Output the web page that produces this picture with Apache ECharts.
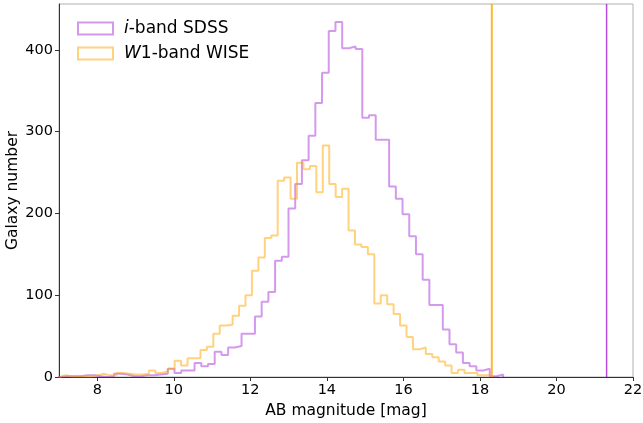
<!DOCTYPE html>
<html>
<head>
<meta charset="utf-8">
<script src="https://cdn.jsdelivr.net/npm/echarts@6/dist/echarts.min.js"></script>
<style>
  html, body { margin: 0; padding: 0; background: #fff; }
  #chart { width: 643px; height: 423px; }
</style>
</head>
<body>
<div id="chart"></div>
<script>
// i-band SDSS histogram: 67 bins
var iBandStart = 6.862;
var iBandWidth = 0.1753;
var iBandCounts = [
  0, 1, 1, 1, 2, 2, 1, 0, 1, 4, 3, 1, 1, 2, 2, 3, 4, 10,
  5, 8, 8, 17, 13, 16, 31, 27, 36, 38, 53, 53,
  74, 92, 104, 142, 147, 206, 236, 265, 295, 335, 372, 423, 434,
  402, 404, 401, 317, 320, 290, 290, 233, 218, 199, 172, 150,
  119, 88, 88, 58, 40, 30, 17, 13, 8, 10, 1, 3
];

// W1-band WISE histogram: 67 bins
var w1BandStart = 6.993;
var w1BandWidth = 0.1683;
var w1BandCounts = [
  2, 1, 1, 1, 1, 2, 4, 2, 2, 5, 4, 3, 3, 4, 8, 5, 7, 10,
  20, 14, 23, 23, 33, 37, 53, 63, 64, 75, 87, 100,
  130, 146, 170, 173, 240, 244, 218, 262, 254, 258, 226, 283, 236, 220, 230,
  179, 162, 159, 150, 90, 100, 89, 77, 63, 49, 34, 36,
  28, 24, 19, 14, 5, 9, 5, 5, 2, 2
];

// magnitude limits (vertical lines)
var w1Limit = 18.31;
var iLimit = 21.31;

var xTicks = [8, 10, 12, 14, 16, 18, 20, 22];
var yTicks = [0, 100, 200, 300, 400];
var yMax = 456;

function stepData(start, width, counts) {
  var pts = [[start, 0]];
  counts.forEach(function (c, i) {
    pts.push([start + i * width, c]);
  });
  pts.push([start + counts.length * width, 0]);
  return pts;
}

var purpleHist = "rgba(148,0,211,0.4)";
var orangeHist = "rgba(255,165,0,0.5)";
var font = "DejaVu Sans";

var chart = echarts.init(document.getElementById("chart"));
chart.setOption({
  animation: false,
  textStyle: { fontFamily: font },
  grid: {
    left: 59, right: 10, top: 4, bottom: 46,
    outerBoundsMode: "none", containLabel: false,
    show: true, borderColor: "#b0b0b0", borderWidth: 1
  },
  legend: {
    left: 72, top: 15, orient: "vertical",
    itemWidth: 35, itemHeight: 12, itemGap: 8,
    data: [
      { name: "i-band SDSS", icon: "rect",
        itemStyle: { color: "rgba(0,0,0,0)", borderColor: purpleHist, borderWidth: 2 } },
      { name: "W1-band WISE", icon: "rect",
        itemStyle: { color: "rgba(0,0,0,0)", borderColor: orangeHist, borderWidth: 2 } }
    ],
    formatter: function (name) {
      return name === "i-band SDSS" ? "{it|i}-band SDSS" : "{it|W}1-band WISE";
    },
    textStyle: {
      fontFamily: font, fontSize: 17, color: "#000", padding: [0, 0, 0, 6],
      rich: { it: { fontStyle: "italic", fontFamily: font, fontSize: 17, color: "#000" } }
    }
  },
  xAxis: {
    type: "value", min: 7, max: 22,
    name: "AB magnitude [mag]", nameLocation: "middle", nameGap: 26, nameMoveOverlap: false,
    nameTextStyle: { fontFamily: font, fontSize: 15.5, color: "#000" },
    axisLine: { lineStyle: { color: "#333", width: 1 } },
    axisTick: { show: true, length: 4, customValues: xTicks, lineStyle: { color: "#333" } },
    axisLabel: { customValues: xTicks, fontFamily: font, fontSize: 14.5, color: "#000", margin: 6 },
    splitLine: { show: false }
  },
  yAxis: {
    type: "value", min: 0, max: yMax,
    name: "Galaxy number", nameLocation: "middle", nameGap: 38, nameMoveOverlap: false,
    nameTextStyle: { fontFamily: font, fontSize: 15.5, color: "#000" },
    axisLine: { show: true, lineStyle: { color: "#333", width: 1 } },
    axisTick: { show: true, length: 4, customValues: yTicks, lineStyle: { color: "#333" } },
    axisLabel: { customValues: yTicks, fontFamily: font, fontSize: 14.5, color: "#000", margin: 6 },
    splitLine: { show: false }
  },
  series: [
    {
      name: "i-band SDSS", type: "line", step: "end", showSymbol: false, clip: true,
      lineStyle: { color: purpleHist, width: 2 }, itemStyle: { color: purpleHist },
      data: stepData(iBandStart, iBandWidth, iBandCounts)
    },
    {
      name: "W1-band WISE", type: "line", step: "end", showSymbol: false, clip: true,
      lineStyle: { color: orangeHist, width: 2 }, itemStyle: { color: orangeHist },
      data: stepData(w1BandStart, w1BandWidth, w1BandCounts)
    },
    {
      name: "W1 limit", type: "line", showSymbol: false,
      lineStyle: { color: "rgba(255,165,0,0.8)", width: 2 },
      data: [[w1Limit, 0], [w1Limit, yMax]]
    },
    {
      name: "i limit", type: "line", showSymbol: false,
      lineStyle: { color: "rgba(148,0,211,0.7)", width: 1.5 },
      data: [[iLimit, 0], [iLimit, yMax]]
    }
  ]
});
</script>
</body>
</html>
